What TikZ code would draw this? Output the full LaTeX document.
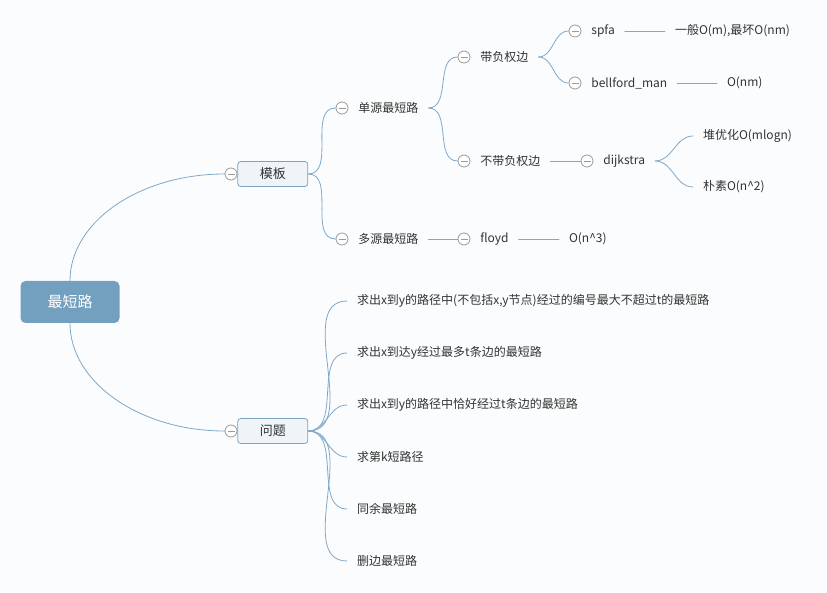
\documentclass[tikz,border=0pt]{standalone}
\usepackage{fontspec}
\setmainfont{Noto Sans CJK SC}
\usepackage{xcolor}
\usetikzlibrary{positioning}
\definecolor{bg}{HTML}{FBFCFD}
\definecolor{linec}{HTML}{7FA8C8}
\definecolor{rootbg}{HTML}{74A0C0}
\definecolor{boxbg}{HTML}{EEF4F8}
\definecolor{boxline}{HTML}{7BA4C4}
\definecolor{togc}{HTML}{9A9A9A}
\definecolor{textc}{HTML}{333333}
\tikzset{
  edge/.style={draw=linec, line width=0.8pt, line cap=round},
  tog/.style={circle, draw=togc, fill=white, minimum size=12pt, inner sep=0pt, line width=0.8pt,
    path picture={\draw[togc, line width=0.8pt]
      ([xshift=-3.5pt]path picture bounding box.center) -- ([xshift=3.5pt]path picture bounding box.center);}},
  lab/.style={inner xsep=10pt, inner ysep=2pt, outer sep=0pt, anchor=west, text=textc,
    font=\fontsize{12}{14}\selectfont},
  topic/.style={draw=boxline, fill=boxbg, rounded corners=3pt, line width=0.8pt,
    minimum width=70pt, minimum height=25pt, inner sep=0pt, text=textc, font=\fontsize{13}{15}\selectfont},
  rootbox/.style={fill=rootbg, rounded corners=5pt, minimum width=99pt, minimum height=42pt,
    inner sep=0pt, text=white, font=\fontsize{15}{17}\selectfont},
}
\begin{document}
\begin{tikzpicture}[x=1pt,y=-1pt]
  \fill[bg] (0,0) rectangle (827,593);
  \useasboundingbox (0,0) rectangle (827,593);

  % root and the two main topics
  \node[rootbox] (root) at (70,302) {最短路};
  \node[tog] (tMB) at (231,174) {};
  \node[topic, right=0pt of tMB] (MB) {模板};
  \node[tog] (tWT) at (231,431) {};
  \node[topic, right=0pt of tWT] (WT) {问题};

  % template branch
  \node[tog] (tDY) at (342,108) {};
  \node[lab] (DY) at (tDY.east) {单源最短路};
  \node[tog] (tDD) at (342,239) {};
  \node[lab] (DD) at (tDD.east) {多源最短路};
  \node[tog] (tFu) at (464,57) {};
  \node[lab] (Fu) at (tFu.east) {带负权边};
  \node[tog] (tBF) at (464,161) {};
  \node[lab] (BF) at (tBF.east) {不带负权边};
  \node[tog] (tSP) at (575,31) {};
  \node[lab] (SP) at (tSP.east) {spfa};
  \node[lab] (SPc) at (665,31) {一般O(m),最坏O(nm)};
  \node[tog] (tBM) at (575,83) {};
  \node[lab] (BM) at (tBM.east) {bellford\_man};
  \node[lab] (BMc) at (717,83) {O(nm)};
  \node[tog] (tDJ) at (587,161) {};
  \node[lab] (DJ) at (tDJ.east) {dijkstra};
  \node[lab] (DJh) at (693,136) {堆优化O(mlogn)};
  \node[lab] (DJn) at (693,187) {朴素O(n\^{}2)};
  \node[tog] (tFL) at (464,239) {};
  \node[lab] (FL) at (tFL.east) {floyd};
  \node[lab] (FLc) at (559,239) {O(n\^{}3)};

  % question branch
  \node[lab] (q1) at (347,301) {求出x到y的路径中(不包括x,y节点)经过的编号最大不超过t的最短路};
  \node[lab] (q2) at (347,353) {求出x到达y经过最多t条边的最短路};
  \node[lab] (q3) at (347,405) {求出x到y的路径中恰好经过t条边的最短路};
  \node[lab] (q4) at (347,457) {求第k短路径};
  \node[lab] (q5) at (347,509) {同余最短路};
  \node[lab] (q6) at (347,561) {删边最短路};

  % connectors
  \draw[edge] (root.north) .. controls +(0,-59) and +(-85,0) .. (tMB.west);
  \draw[edge] (root.south) .. controls +(0,59) and +(-85,0) .. (tWT.west);
  \foreach \a/\b in {MB/tDY, MB/tDD, DY/tFu, DY/tBF, Fu/tSP, Fu/tBM, DJ/DJh, DJ/DJn,
                     WT/q1, WT/q2, WT/q3, WT/q4, WT/q5, WT/q6}
    \draw[edge] (\a.east) to[out=0,in=180] (\b.west);
  \foreach \a/\b in {SP/SPc, BM/BMc, BF/tDJ, DD/tFL, FL/FLc}
    \draw[edge] (\a.east) -- (\b.west);
\end{tikzpicture}
\end{document}
